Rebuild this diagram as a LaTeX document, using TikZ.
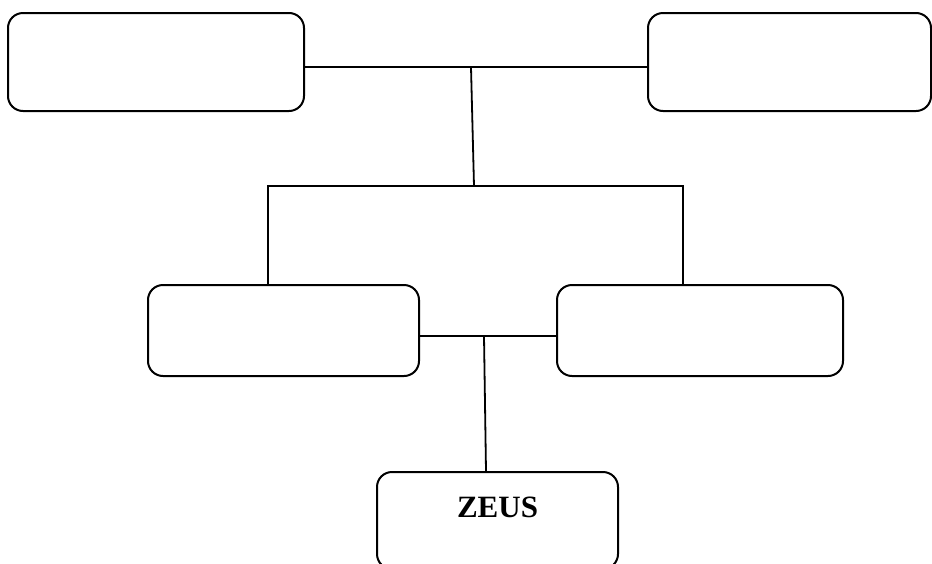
\documentclass[tikz,border=0pt]{standalone}
\usepackage{fontspec}
\setmainfont{Liberation Serif}
\usetikzlibrary{positioning}
\tikzset{%
	% Specifications for style of nodes:
	base/.style = {rectangle, rounded corners=15pt, draw=black, line width=2pt,
		inner sep=0pt, text centered},
	familyBox/.style = {base, fill=white},
	link/.style = {draw=black, line width=1.8pt}
}

\begin{document}
\begin{tikzpicture}[x=1pt, y=-1pt]
		\useasboundingbox (0,0) rectangle (932,563);
		\node (topLeft) [familyBox, minimum width=296pt, minimum height=98pt] at (156,62) {};
		\node (topRight) [familyBox, minimum width=283pt, minimum height=98pt] at (789.5,62) {};
		\node (midLeft) [familyBox, minimum width=271pt, minimum height=91pt] at (283.5,330.5) {};
		\node (midRight) [familyBox, minimum width=286pt, minimum height=91pt] at (700,330.5) {};
		\node (zeus) [familyBox, anchor=base, minimum width=241pt, text height=45pt, text depth=52pt,
			font=\fontsize{31pt}{36pt}\selectfont\bfseries] at (497.5,517) {ZEUS};
		
		\coordinate (topJoin) at (471,67);
		\coordinate (midJoin) at (474,186);
		\coordinate (leftDrop) at (268,186);
		\coordinate (rightDrop) at (683,186);
		\coordinate (botJoin) at (484,336);
		
		\draw[link] (topLeft.east |- topJoin) -- (topRight.west |- topJoin);
		\draw[link] (topJoin) -- (midJoin);
		\draw[link] (midLeft.north -| leftDrop) -- (leftDrop) -- (rightDrop) -- (midRight.north -| rightDrop);
		\draw[link] (midLeft.east |- botJoin) -- (midRight.west |- botJoin);
		\draw[link] (botJoin) -- ([xshift=2pt]zeus.north -| botJoin);
	\end{tikzpicture}
\end{document}
